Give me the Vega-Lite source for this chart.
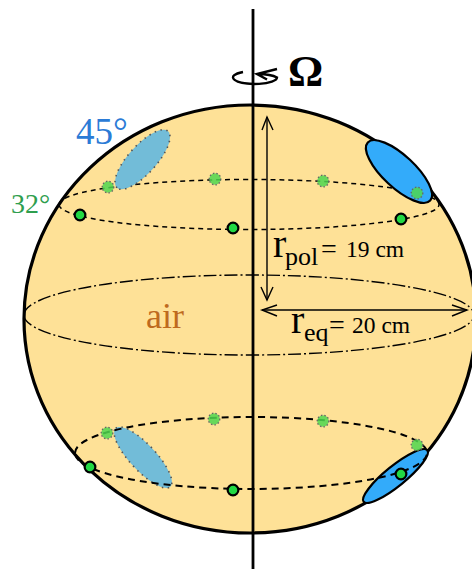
{
"$schema":"https://vega.github.io/schema/vega-lite/v6.json",
"width":472,"height":569,"padding":0,"autosize":{"type":"none"},
"background":"white",
"config":{"view":{"stroke":null}},
"encoding":{
 "x":{"field":"x","type":"quantitative","axis":null,"scale":{"domain":[0,472],"nice":false,"zero":false}},
 "y":{"field":"y","type":"quantitative","axis":null,"scale":{"domain":[569,0],"nice":false,"zero":false}}
},
"layer":[
{"data":{"values":[{"name":"sphere","x":250,"y":319}]},
 "mark":{"type":"point","clip":false,"opacity":1,"size":4,"shape":"M -226 0 A 226 214 0 1 1 226 0 A 226 214 0 1 1 -226 0 Z","fill":"#FEE197","filled":true,"stroke":"black","strokeWidth":3.2}},
{"data":{"values":[{"name":"latitude top","x":249,"y":204.5}]},
 "mark":{"type":"point","opacity":1,"size":4,"shape":"M -190 0 A 190 25 0 1 1 190 0 A 190 25 0 1 1 -190 0 Z","filled":false,"stroke":"black","strokeWidth":1.5,"strokeDash":[5,4]}},
{"data":{"values":[{"name":"equator","x":249,"y":315}]},
 "mark":{"type":"point","opacity":1,"size":4,"shape":"M -225 0 A 225 40 0 1 1 225 0 A 225 40 0 1 1 -225 0 Z","filled":false,"stroke":"black","strokeWidth":1.4,"strokeDash":[13,3,2,3]}},
{"data":{"values":[{"name":"bubble upper left","x":142.5,"y":159.5}]},
 "mark":{"type":"point","opacity":1,"size":4,"angle":312,"shape":"M -38 0 A 38 14 0 1 1 38 0 A 38 14 0 1 1 -38 0 Z","fill":"#72BCD8","filled":true,"stroke":"#555555","strokeWidth":1.6,"strokeDash":[1.5,4.5]}},
{"data":{"values":[{"name":"bubble lower left","x":143,"y":457.5}]},
 "mark":{"type":"point","opacity":1,"size":4,"angle":47,"shape":"M -40 0 A 40 13 0 1 1 40 0 A 40 13 0 1 1 -40 0 Z","fill":"#72BCD8","filled":true,"stroke":"#555555","strokeWidth":1.6,"strokeDash":[1.5,4.5]}},
{"data":{"values":[{"name":"bubble upper right","x":399,"y":171.5}]},
 "mark":{"type":"point","opacity":1,"size":4,"angle":43,"shape":"M -42.7 0 A 42.7 16 0 1 1 42.7 0 A 42.7 16 0 1 1 -42.7 0 Z","fill":"#33ABFA","filled":true,"stroke":"black","strokeWidth":2.2}},
{"data":{"values":[{"name":"bubble lower right","x":395.5,"y":476}]},
 "mark":{"type":"point","opacity":1,"size":4,"angle":321,"shape":"M -41 0 A 41 10 0 1 1 41 0 A 41 10 0 1 1 -41 0 Z","fill":"#33ABFA","filled":true,"stroke":"black","strokeWidth":2.2}},
{"data":{"values":[{"name":"latitude bottom","x":251,"y":453}]},
 "mark":{"type":"point","opacity":1,"size":4,"shape":"M -176 0 A 176 36 0 1 1 176 0 A 176 36 0 1 1 -176 0 Z","filled":false,"stroke":"black","strokeWidth":2,"strokeDash":[7,5]}},
{"data":{"values":[{"x":253,"y":9,"part":"axis","seq":0},{"x":253,"y":569,"part":"axis","seq":1}]},
 "mark":{"type":"line","stroke":"black","strokeWidth":2.8},
 "encoding":{"detail":{"field":"part"},"order":{"field":"seq","type":"quantitative"}}},
{"data":{"values":[{"name":"rotation","x":255,"y":77.5}]},
 "mark":{"type":"point","opacity":1,"size":4,"filled":false,"stroke":"black","strokeWidth":2.4,"shape":"M -12 -5.5 A 22 6.5 0 1 0 22 0 A 22 6.5 0 0 0 3 -3.5 M 22 -8.5 L 2 -3.5 L 12 2"}},
{"data":{"values":[
 {"x":267,"y":117,"part":"pol","seq":0},{"x":267,"y":300,"part":"pol","seq":1},
 {"x":262,"y":130,"part":"pol top","seq":0},{"x":267,"y":117,"part":"pol top","seq":1},{"x":273,"y":130,"part":"pol top","seq":2},
 {"x":261,"y":287,"part":"pol bottom","seq":0},{"x":267,"y":300,"part":"pol bottom","seq":1},{"x":273,"y":287,"part":"pol bottom","seq":2},
 {"x":262,"y":310,"part":"eq","seq":0},{"x":467,"y":310,"part":"eq","seq":1},
 {"x":277,"y":305,"part":"eq left","seq":0},{"x":262,"y":310,"part":"eq left","seq":1},{"x":277,"y":316,"part":"eq left","seq":2},
 {"x":452,"y":305,"part":"eq right","seq":0},{"x":467,"y":310,"part":"eq right","seq":1},{"x":452,"y":316,"part":"eq right","seq":2}
 ]},
 "mark":{"type":"line","stroke":"black","strokeWidth":1.4},
 "encoding":{"detail":{"field":"part"},"order":{"field":"seq","type":"quantitative"}}},
{"data":{"values":[{"x":108,"y":187},{"x":215,"y":179},{"x":323,"y":181},{"x":417,"y":193},{"x":107,"y":433},{"x":214,"y":419},{"x":323,"y":421},{"x":417,"y":445}]},
 "mark":{"type":"point","shape":"circle","opacity":1,"size":135,"fill":"#4FD64F","filled":true,"fillOpacity":0.85,"stroke":"#666666","strokeWidth":1.3,"strokeDash":[1.5,2]}},
{"data":{"values":[{"x":80,"y":215},{"x":233,"y":228},{"x":401,"y":219},{"x":90,"y":467},{"x":233,"y":490},{"x":401,"y":474}]},
 "mark":{"type":"point","shape":"circle","opacity":1,"size":115,"fill":"#22D844","filled":true,"stroke":"black","strokeWidth":2.2}},
{"data":{"values":[{"t":"Ω","x":288,"y":86}]},
 "mark":{"type":"text","align":"left","baseline":"alphabetic","font":"Liberation Serif","fontWeight":"bold","fontSize":44,"fill":"black"},
 "encoding":{"text":{"field":"t"}}},
{"data":{"values":[{"t":"45°","x":76,"y":144}]},
 "mark":{"type":"text","align":"left","baseline":"alphabetic","font":"Liberation Serif","fontSize":37,"fill":"#2B7BD6"},
 "encoding":{"text":{"field":"t"}}},
{"data":{"values":[{"t":"32°","x":11,"y":213}]},
 "mark":{"type":"text","align":"left","baseline":"alphabetic","font":"Liberation Serif","fontSize":28,"fill":"#2E9E4E"},
 "encoding":{"text":{"field":"t"}}},
{"data":{"values":[{"t":"air","x":146,"y":328}]},
 "mark":{"type":"text","align":"left","baseline":"alphabetic","font":"Liberation Serif","fontSize":36,"fill":"#BE6A1E"},
 "encoding":{"text":{"field":"t"}}},
{"data":{"values":[{"t":"r","x":273,"y":257},{"t":"r","x":291,"y":333}]},
 "mark":{"type":"text","align":"left","baseline":"alphabetic","font":"Liberation Serif","fontSize":40,"fill":"black"},
 "encoding":{"text":{"field":"t"}}},
{"data":{"values":[{"t":"pol","x":285,"y":265},{"t":"eq","x":304,"y":341}]},
 "mark":{"type":"text","align":"left","baseline":"alphabetic","font":"Liberation Serif","fontSize":26,"fill":"black"},
 "encoding":{"text":{"field":"t"}}},
{"data":{"values":[{"t":"=","x":321,"y":258},{"t":"=","x":329,"y":334}]},
 "mark":{"type":"text","align":"left","baseline":"alphabetic","font":"Liberation Serif","fontSize":28,"fill":"black"},
 "encoding":{"text":{"field":"t"}}},
{"data":{"values":[{"t":"19 cm","x":346,"y":257},{"t":"20 cm","x":352,"y":333}]},
 "mark":{"type":"text","align":"left","baseline":"alphabetic","font":"Liberation Serif","fontSize":23.5,"fill":"black"},
 "encoding":{"text":{"field":"t"}}}
]
}
